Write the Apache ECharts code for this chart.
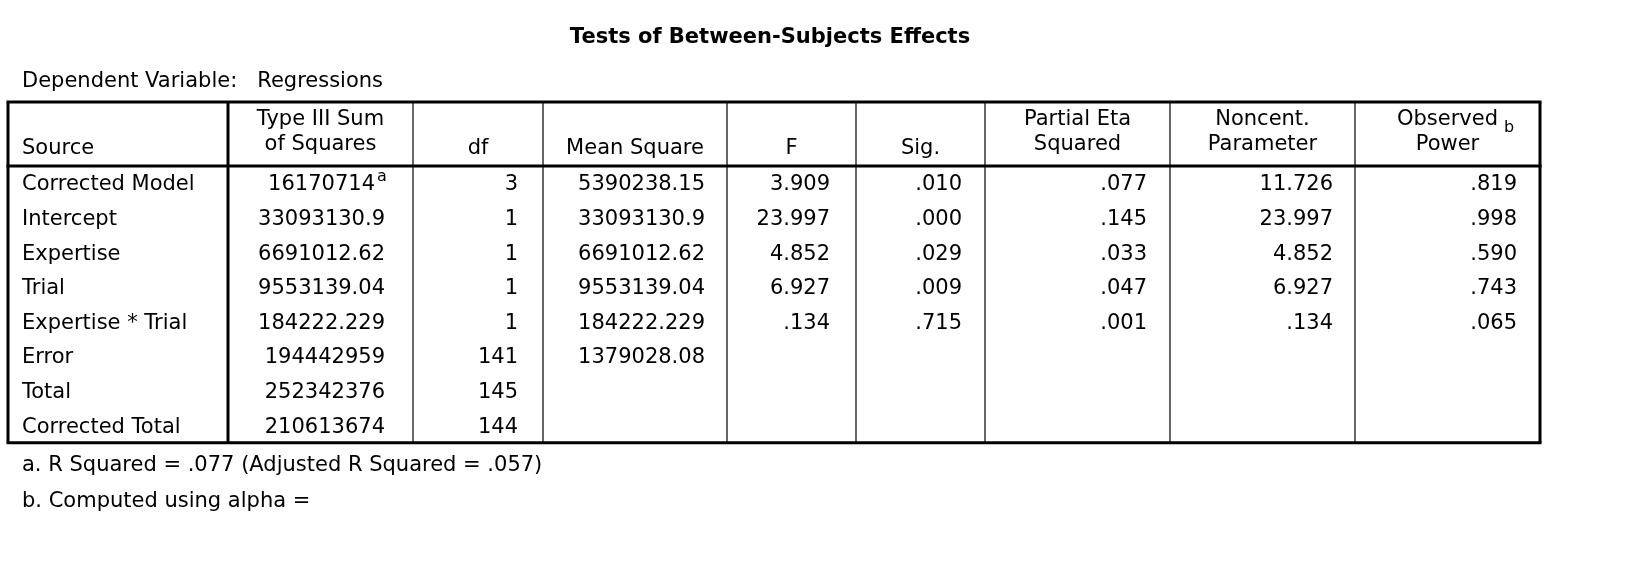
<!DOCTYPE html>
<html><head><meta charset="utf-8">
<script src="https://cdn.jsdelivr.net/npm/echarts@6/dist/echarts.min.js"></script>
<style>html,body{margin:0;padding:0;background:#fff}#c{width:1630px;height:564px}</style>
</head><body><div id="c"></div>
<script>
const title = "Tests of Between-Subjects Effects";
const depVar = "Dependent Variable:   Regressions";
const headers = [["Source"],["Type III Sum","of Squares"],["df"],["Mean Square"],["F"],["Sig."],["Partial Eta","Squared"],["Noncent.","Parameter"],["Observed","Power"]];
const sources = ["Corrected Model","Intercept","Expertise","Trial","Expertise * Trial","Error","Total","Corrected Total"];
const sumSq = ["16170714","33093130.9","6691012.62","9553139.04","184222.229","194442959","252342376","210613674"];
const df = ["3","1","1","1","1","141","145","144"];
const meanSq = ["5390238.15","33093130.9","6691012.62","9553139.04","184222.229","1379028.08","",""];
const fVal = ["3.909","23.997","4.852","6.927",".134","","",""];
const sig = [".010",".000",".029",".009",".715","","",""];
const eta = [".077",".145",".033",".047",".001","","",""];
const noncent = ["11.726","23.997","4.852","6.927",".134","","",""];
const power = [".819",".998",".590",".743",".065","","",""];
const footnotes = ["a. R Squared = .077 (Adjusted R Squared = .057)","b. Computed using alpha ="];

(function(){
const colX = [8,228,413,543,727,856,985,1170,1355,1540];
const tTop = 102, headBot = 166, rowH = 34.6, font = '"DejaVu Sans", sans-serif', fs = 21;
const cols = [sumSq, df, meanSq, fVal, sig, eta, noncent, power];
const rightEdge = [385,518,705,830,962,1147,1333,1517];
const els = [];
const txt = (x,y,s,opt={}) => els.push({type:'text',x,y,style:Object.assign({text:s,font:`${fs}px ${font}`,fill:'#000',verticalAlign:'middle',align:'left'},opt)});
const line = (x1,y1,x2,y2,w) => els.push({type:'line',shape:{x1,y1,x2,y2},style:{stroke:'#000',lineWidth:w}});
txt(770,38,title,{font:`bold ${fs}px ${font}`,align:'center'});
txt(22,82,depVar);
const nR = sources.length, bot = headBot + nR*rowH;
headers.forEach((h,i)=>{
  const cx = (colX[i]+colX[i+1])/2;
  if (h.length===1) txt(i===0?22:cx,149,h[0],{align:i===0?'left':'center'});
  else { txt(cx,120,h[0],{align:'center'}); txt(cx,145,h[1],{align:'center'}); }
});
txt(1504,128,"b",{font:`${fs-5}px ${font}`});
sources.forEach((s,r)=>{
  const y = headBot + rowH*(r+0.55);
  txt(22,y,s);
  cols.forEach((c,j)=>{ if(c[r]) txt(rightEdge[j]-(j===0&&r===0?10:0),y,c[r],{align:'right'}); });
});
txt(377,177,"a",{font:`${fs-5}px ${font}`});
footnotes.forEach((f,i)=>txt(22,466+36*i,f));
colX.forEach((x,i)=>line(x,tTop,x,bot,(i===0||i===1||i===colX.length-1)?3:1.2));
line(colX[0]-1.5,tTop,colX[9]+1.5,tTop,3);
line(colX[0]-1.5,headBot,colX[9]+1.5,headBot,3);
line(colX[0]-1.5,bot,colX[9]+1.5,bot,3);
const chart = echarts.init(document.getElementById('c'));
chart.setOption({animation:false,graphic:{elements:els}});
})();
</script></body></html>
